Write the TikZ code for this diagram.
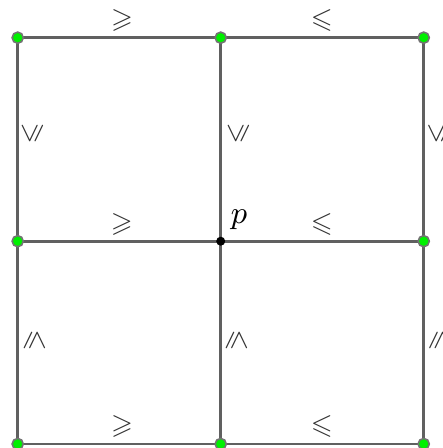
\documentclass[tikz,border=0pt]{standalone}
\usepackage{amsmath}
\usepackage{amssymb}
\usetikzlibrary{calc}
\definecolor{edgegray}{HTML}{606060}
\definecolor{dotgreen}{HTML}{00F000}

\begin{document}
\begin{tikzpicture}[
    edge/.style={draw=edgegray, line width=0.8pt},
    gdot/.style={fill=dotgreen, draw=black!55, line width=0.45pt},
    hsgn/.style={text=black!80, inner sep=0pt, font=\footnotesize},
    vsgn/.style={text=black!80, inner sep=0pt, font=\scriptsize}]
  \useasboundingbox (0,0) rectangle (4.43,-4.48);
  \clip (0,0) rectangle (4.43,-4.48);
  % grid points
  \coordinate (a1) at (0.177,-0.377);
  \coordinate (a2) at (2.207,-0.377);
  \coordinate (a3) at (4.237,-0.377);
  \coordinate (b1) at (0.177,-2.412);
  \coordinate (p) at (2.207,-2.412);
  \coordinate (b3) at (4.237,-2.412);
  \coordinate (c1) at (0.177,-4.44);
  \coordinate (c2) at (2.207,-4.44);
  \coordinate (c3) at (4.237,-4.44);
  % edges
  \draw[edge] (a1) -- (a3) (b1) -- (b3) (c1) -- (c3);
  \draw[edge] (a1) -- (c1) (a2) -- (c2) (a3) -- (c3);
  % points
  \foreach \q in {a1,a2,a3,b1,b3,c1,c2,c3}
    \fill[gdot] (\q) circle (0.056);
  \fill[black] (p) circle (0.045);
  \node[font=\small] (plab) at (2.39,-2.20) {\(p\)};
  % horizontal signs
  \node[hsgn] (h1) at (1.22,-0.207) {\(\geqslant\)};
  \node[hsgn] (h2) at (3.217,-0.207) {\(\leqslant\)};
  \node[hsgn] (h3) at (1.217,-2.24) {\(\geqslant\)};
  \node[hsgn] (h4) at (3.217,-2.24) {\(\leqslant\)};
  \node[hsgn] (h5) at (1.22,-4.267) {\(\geqslant\)};
  \node[hsgn] (h6) at (3.217,-4.267) {\(\leqslant\)};
  % vertical signs
  \node[vsgn, rotate=90] (v1) at (0.325,-1.34) {\(\leqslant\)};
  \node[vsgn, rotate=90] (v2) at (2.385,-1.34) {\(\leqslant\)};
  \node[vsgn, rotate=90] (v3) at (4.39,-1.34) {\(\leqslant\)};
  \node[vsgn, rotate=-90] (v4) at (0.345,-3.40) {\(\leqslant\)};
  \node[vsgn, rotate=-90] (v5) at (2.365,-3.40) {\(\leqslant\)};
  \node[vsgn, rotate=-90] (v6) at (4.40,-3.40) {\(\leqslant\)};
\end{tikzpicture}
\end{document}
